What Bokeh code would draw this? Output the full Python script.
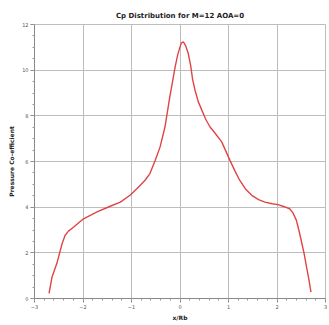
from bokeh.plotting import figure
from bokeh.embed import file_html
from bokeh.resources import INLINE
from bokeh.models import SingleIntervalTicker, Range1d

# x/Rb positions and pressure coefficient
x_rb = [-2.70, -2.64, -2.54, -2.43, -2.37, -2.30, -2.19, -1.99, -1.71, -1.44,
        -1.23, -1.03, -0.89, -0.72, -0.62, -0.51, -0.41, -0.31, -0.21, -0.10,
        -0.05, 0.00, 0.03, 0.07, 0.12, 0.17, 0.22, 0.26, 0.31, 0.38,
        0.45, 0.53, 0.62, 0.72, 0.86, 1.03, 1.13, 1.23, 1.35, 1.48,
        1.62, 1.75, 1.90, 2.02, 2.15, 2.26, 2.33, 2.40, 2.45, 2.50,
        2.56, 2.61, 2.66, 2.70]
cp = [0.22, 0.93, 1.53, 2.41, 2.76, 2.95, 3.13, 3.49, 3.79, 4.04,
      4.22, 4.52, 4.81, 5.18, 5.47, 6.05, 6.64, 7.51, 8.83, 10.14,
      10.65, 11.02, 11.20, 11.24, 11.05, 10.73, 10.20, 9.60, 9.12, 8.60,
      8.25, 7.85, 7.51, 7.25, 6.86, 6.05, 5.60, 5.18, 4.80, 4.52,
      4.33, 4.22, 4.15, 4.11, 4.02, 3.93, 3.75, 3.42, 3.00, 2.54,
      1.95, 1.37, 0.80, 0.28]

title_text = "Cp Distribution for M=12 AOA=0"
x_label = "x/Rb"
y_label = "Pressure Co-efficient"

FONT = "DejaVu Sans"

p = figure(width=329, height=325, output_backend="svg", toolbar_location=None,
           x_range=Range1d(-3, 3), y_range=Range1d(0, 12),
           min_border_left=34, min_border_right=4, min_border_top=24,
           min_border_bottom=27, title=title_text)

p.title.text_font = FONT
p.title.text_font_size = "7px"
p.title.text_font_style = "bold"
p.title.align = "center"
p.title.text_color = "#222222"
p.title.standoff = 10

p.line(x_rb, cp, line_color="#e04444", line_width=1.4)

p.xaxis.ticker = SingleIntervalTicker(interval=1, num_minor_ticks=5)
p.yaxis.ticker = SingleIntervalTicker(interval=2, num_minor_ticks=4)

for ax in (p.xaxis[0], p.yaxis[0]):
    ax.axis_line_color = "#888888"
    ax.major_tick_line_color = "#888888"
    ax.minor_tick_line_color = "#999999"
    ax.major_tick_out = 4
    ax.major_tick_in = 0
    ax.minor_tick_out = 2
    ax.minor_tick_in = 0
    ax.major_label_text_font = FONT
    ax.major_label_text_font_size = "5px"
    ax.major_label_text_color = "#555555"
    ax.major_label_standoff = 2
    ax.axis_label_text_font = FONT
    ax.axis_label_text_font_size = "6px"
    ax.axis_label_text_font_style = "bold"
    ax.axis_label_text_color = "#222222"
    ax.axis_label_standoff = 2

p.yaxis.axis_label_standoff = 4
p.xaxis.axis_label = x_label
p.yaxis.axis_label = y_label

p.xgrid.grid_line_color = "#bdbdbd"
p.ygrid.grid_line_color = "#bdbdbd"
p.outline_line_color = "#bdbdbd"
p.background_fill_color = "white"
p.border_fill_color = "white"

open("out.html", "w").write(file_html(p, INLINE))
